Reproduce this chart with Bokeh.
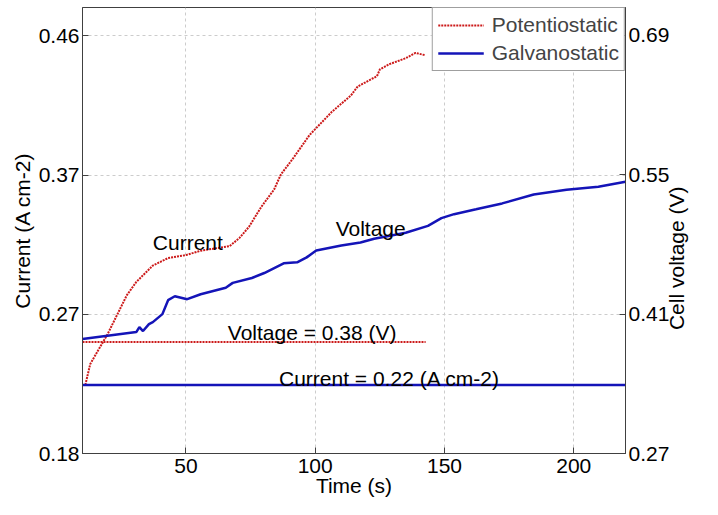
import math
from bokeh.plotting import figure
from bokeh.models import (Range1d, LinearAxis, FixedTicker, NumeralTickFormatter,
                          CustomJSTickFormatter, Label, Legend, LegendItem)
from bokeh.embed import file_html
from bokeh.resources import INLINE

# ---------------- data ----------------
pot_time = [11.1, 13.0, 16.0, 19.7, 23.4, 27.1, 30.8, 37.2, 43.1, 50.0, 55.8, 66.9,
            70.7, 74.4, 79.2, 84.1, 86.7, 91.5, 97.8, 106.4, 113.8, 116.4, 123.9,
            125.0, 128.7, 135.0, 138.8, 142.5]
pot_current = [0.226, 0.240, 0.249, 0.260, 0.273, 0.286, 0.295, 0.306, 0.311, 0.313,
               0.316, 0.319, 0.3245, 0.332, 0.3455, 0.357, 0.367, 0.378, 0.3935,
               0.409, 0.420, 0.426, 0.433, 0.4375, 0.441, 0.445, 0.4486, 0.447]

gal_time = [10.0, 30.8, 32.0, 33.4, 35.7, 37.2, 40.9, 43.1, 45.7, 50.5, 55.7, 65.4,
            68.1, 75.5, 80.3, 87.8, 93.0, 96.7, 100.4, 110.1, 117.5, 122.8, 135.0,
            143.6, 148.8, 153.7, 162.2, 172.3, 184.5, 197.2, 209.5, 220.0]
gal_voltage = [0.385, 0.392, 0.397, 0.393, 0.400, 0.402, 0.410, 0.424, 0.428, 0.425,
               0.430, 0.4365, 0.4414, 0.4463, 0.4513, 0.461, 0.462, 0.467, 0.474,
               0.479, 0.482, 0.4857, 0.4917, 0.4986, 0.5064, 0.5104, 0.5153, 0.5212,
               0.5301, 0.535, 0.538, 0.543]

set_voltage_time = [10.0, 142.7]
set_voltage = [0.382, 0.382]          # potentiostatic set point (right axis)
set_current_time = [10.0, 220.0]
set_current = [0.226, 0.226]          # galvanostatic set point (left axis)

x_ticks = [50, 100, 150, 200]
current_ticks = [0.18, 0.2733, 0.3667, 0.46]
voltage_ticks = [0.27, 0.41, 0.55, 0.69]

# ---------------- styling ----------------
FONT = "Liberation Sans"
FS = "21px"
RED = "#cc1a1a"
BLUE = "#1414b8"
GRID = "#cccccc"
AX = "#404040"
RIGHT_TITLE = "Cell voltage (V)"
RIGHT_TITLE_START = 0.394   # where the rotated right-axis title starts (voltage units)

p = figure(width=702, height=499, output_backend="svg", toolbar_location=None,
           x_range=Range1d(10, 220), y_range=Range1d(0.18, 0.479),
           min_border_left=82, min_border_right=40, min_border_top=7,
           min_border_bottom=44)
p.extra_y_ranges = {"v": Range1d(0.27, 0.718)}

p.outline_line_color = AX
p.outline_line_width = 1
p.background_fill_color = "white"
p.border_fill_color = "white"

# axes
xa = p.xaxis[0]
xa.ticker = FixedTicker(ticks=x_ticks)
xa.formatter = NumeralTickFormatter(format="0")
xa.axis_label = "Time (s)"

ya = p.yaxis[0]
ya.ticker = FixedTicker(ticks=current_ticks)
ya.formatter = NumeralTickFormatter(format="0.00")
ya.axis_label = "Current (A cm-2)"

ra = LinearAxis(y_range_name="v", ticker=FixedTicker(ticks=voltage_ticks),
                formatter=NumeralTickFormatter(format="0.00"))
p.add_layout(ra, "right")

for ax in (xa, ya, ra):
    ax.axis_line_color = AX
    ax.major_tick_line_color = AX
    ax.major_tick_in = 6
    ax.major_tick_out = 0
    ax.minor_tick_line_color = None
    ax.major_label_text_font = FONT
    ax.major_label_text_font_size = FS
    ax.major_label_text_color = "black"
    ax.axis_label_text_font = FONT
    ax.axis_label_text_font_size = FS
    ax.axis_label_text_font_style = "normal"
    ax.axis_label_text_color = "black"
    ax.major_label_standoff = 3
    ax.axis_label_standoff = 2
xa.major_label_standoff = 5
xa.axis_label_standoff = -2

# right-axis title, drawn as the single rotated label of an outer bare axis
rt = LinearAxis(y_range_name="v", ticker=FixedTicker(ticks=[RIGHT_TITLE_START]),
                formatter=CustomJSTickFormatter(code="return %r;" % RIGHT_TITLE),
                major_label_orientation=math.pi / 2)
rt.axis_line_color = None
rt.major_tick_line_color = None
rt.minor_tick_line_color = None
rt.major_tick_in = 0
rt.major_tick_out = 0
rt.major_label_standoff = 4
rt.major_label_text_font = FONT
rt.major_label_text_font_size = FS
rt.major_label_text_color = "black"
p.add_layout(rt, "right")

# grid
for g in (p.xgrid[0], p.ygrid[0]):
    g.grid_line_color = GRID
    g.grid_line_dash = "3 3"
    g.grid_line_width = 1
p.xgrid[0].ticker = FixedTicker(ticks=x_ticks)
p.ygrid[0].ticker = FixedTicker(ticks=current_ticks)

# lines
r_pot = p.line(pot_time, pot_current, line_color=RED, line_width=2, line_dash="2 1")
p.line(set_voltage_time, set_voltage, y_range_name="v", line_color=RED,
       line_width=2, line_dash="2 1")
r_gal = p.line(gal_time, gal_voltage, y_range_name="v", line_color=BLUE, line_width=2.5)
p.line(set_current_time, set_current, line_color=BLUE, line_width=2.5)

# text annotations
def lab(x, y, t):
    p.add_layout(Label(x=x, y=y, text=t, text_font=FONT, text_font_size=FS,
                       text_color="black", text_align="left",
                       text_baseline="alphabetic"))

lab(37.2, 0.3214, "Current")
lab(107.9, 0.3311, "Voltage")
lab(66.2, 0.2612, "Voltage = 0.38 (V)")
lab(86.0, 0.2306, "Current = 0.22 (A cm-2)")

legend = Legend(items=[LegendItem(label="Potentiostatic", renderers=[r_pot]),
                       LegendItem(label="Galvanostatic", renderers=[r_gal])],
                location="top_right", margin=0, padding=5, spacing=4,
                glyph_width=46, glyph_height=20, label_standoff=8,
                label_text_font=FONT, label_text_font_size=FS,
                border_line_color=AX, border_line_width=1,
                background_fill_color="white", background_fill_alpha=1)
p.add_layout(legend)

open("out.html", "w").write(file_html(p, INLINE))
